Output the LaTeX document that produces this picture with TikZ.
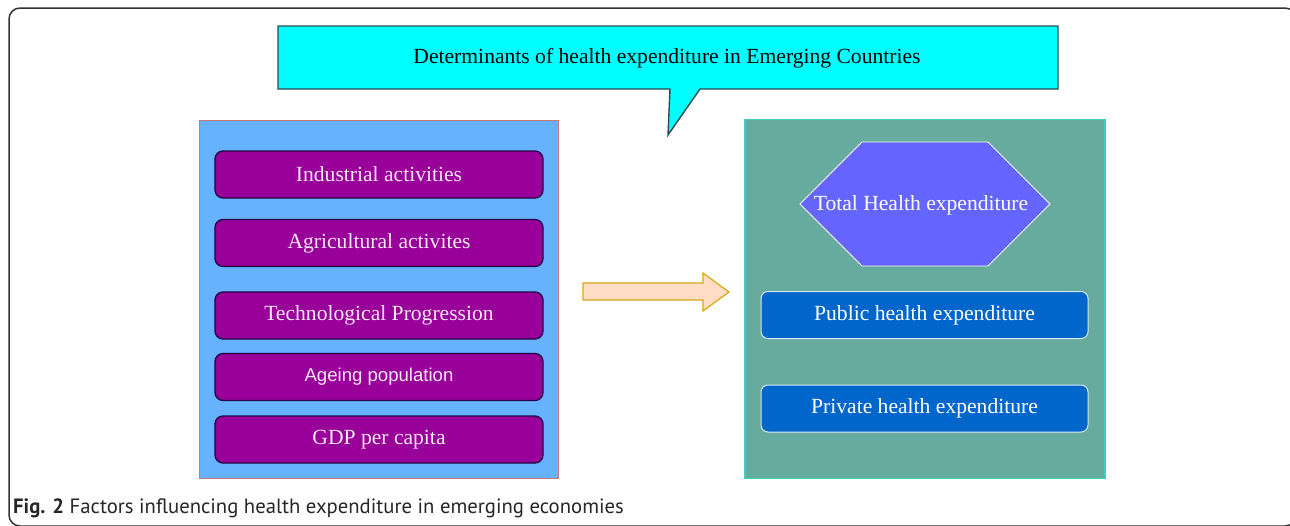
\documentclass[tikz,border=0pt]{standalone}
\usepackage{fontspec}
\setmainfont{Liberation Serif}
\newfontfamily\arialf{Liberation Sans}
\newfontfamily\capf{PT Sans}
\usetikzlibrary{shapes.geometric}
\definecolor{framec}{HTML}{333333}
\definecolor{cyanc}{HTML}{00FFFF}
\definecolor{calloutb}{HTML}{2B4A52}
\definecolor{leftfill}{HTML}{66B2FF}
\definecolor{leftborder}{HTML}{C87878}
\definecolor{purplec}{HTML}{990099}
\definecolor{purpleb}{HTML}{220044}
\definecolor{ptext}{HTML}{F8E8F8}
\definecolor{arrowfill}{HTML}{FFDCC4}
\definecolor{arrowb}{HTML}{D8A818}
\definecolor{tealc}{HTML}{67AB9F}
\definecolor{tealb}{HTML}{3CCFC0}
\definecolor{hexc}{HTML}{6464FF}
\definecolor{bluec}{HTML}{0066CC}
\tikzset{
  bigfont/.style={font=\fontsize{21.6}{26}\selectfont},
  factorbox/.style={draw=purpleb, line width=1.3pt, fill=purplec, rounded corners=8pt,
    minimum width=328pt, minimum height=47pt, inner sep=0pt, text=ptext, bigfont},
  expbox/.style={draw=white!85!bluec, line width=1pt, fill=bluec, rounded corners=7pt,
    minimum width=327pt, minimum height=47pt, inner sep=0pt, text=white, bigfont},
  panel/.style={inner sep=0pt, outer sep=0pt},
}
\begin{document}
\begin{tikzpicture}[x=1pt,y=-1pt]
\useasboundingbox (0,0) rectangle (1290,525);
\begin{scope}
\clip (0,0) rectangle (1290,525);
% outer frame
\draw[framec, line width=1.5pt, rounded corners=11pt] (9,8) rectangle (1296,526);
\end{scope}
% callout
\draw[calloutb, line width=1.4pt, fill=cyanc]
  (278,26) -- (1058,26) -- (1058,89) -- (700,89) -- (668,135) -- (670,89) -- (278,89) -- cycle;
\node[bigfont, text=black, inner sep=0pt] (title) at (667,58) {Determinants of health expenditure in Emerging Countries};
% left panel
\node[panel, draw=leftborder, line width=0.9pt, fill=leftfill, minimum width=359pt, minimum height=358pt] (left) at (378.5,299) {};
\node[factorbox] (f1) at (379,174.5) {Industrial activities};
\node[factorbox] (f2) at (379,243) {Agricultural activites};
\node[factorbox] (f3) at (379,315.5) {Technological Progression};
\node[factorbox, font=\arialf\fontsize{18.6}{22}\selectfont] (f4) at (379,377) {Ageing population};
\node[factorbox] (f5) at (379,439.5) {GDP per capita};
% right panel
\node[panel, draw=tealb, line width=1.4pt, fill=tealc, minimum width=360pt, minimum height=359pt] (right) at (925,299) {};
\draw[white, line width=0.9pt, fill=hexc]
  (800,204) -- (862,142) -- (988,142) -- (1050,204) -- (988,266) -- (862,266) -- cycle;
\node[bigfont, text=white, inner sep=0pt] (total) at (921,205) {Total Health expenditure};
\node[expbox] (pub) at (924.5,315) {Public health expenditure};
\node[expbox] (priv) at (924.5,408.5) {Private health expenditure};
% block arrow
\draw[arrowb, line width=1.2pt, fill=arrowfill, line join=miter]
  (583,283) -- (703,283) -- (703,273) -- (729,292) -- (703,311) -- (703,300) -- (583,300) -- cycle;
% caption
\node[anchor=base west, inner sep=0pt, font=\capf\fontsize{20.7}{24}\selectfont, text=black!85] (cap) at (13,513)
  {\textbf{Fig. 2} Factors influencing health expenditure in emerging economies};
\end{tikzpicture}
\end{document}
